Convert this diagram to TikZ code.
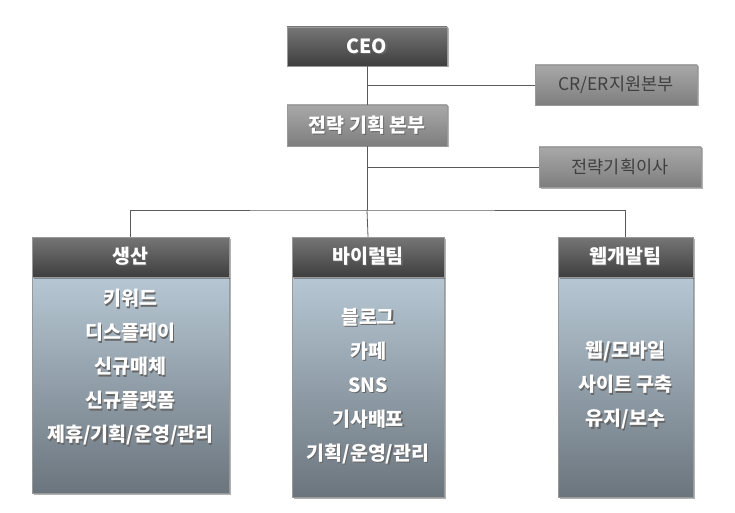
\documentclass[tikz,border=0pt]{standalone}
\usepackage{fontspec}
\usepackage{xcolor}
\usepackage{tikz}
\usetikzlibrary{positioning, shadows}
\newfontfamily\kr{Noto Sans CJK KR}
\definecolor{linegray}{HTML}{5A5A5A}
\definecolor{darktop}{HTML}{767676}
\definecolor{darkbot}{HTML}{3E3E3E}
\definecolor{midtop}{HTML}{A8A8A8}
\definecolor{midbot}{HTML}{7E7E7E}
\definecolor{bodytop}{HTML}{B6C7D3}
\definecolor{bodybot}{HTML}{6B757E}
\newcommand\shd[1]{\rlap{\kern1.2pt\raisebox{-1.2pt}{\textcolor{black!60}{#1}}}#1}

\begin{document}
\begin{tikzpicture}[x=1pt, y=-1pt,
  box/.style={rectangle, inner sep=0pt, draw=black!40, line width=.4pt,
    drop shadow={shadow xshift=1.5pt, shadow yshift=-1.5pt, opacity=.3, fill=black}},
  darkbox/.style={box, top color=darktop, bottom color=darkbot, text=white,
    font=\kr\bfseries\fontsize{19.5}{22}\selectfont},
  graybox/.style={box, top color=midtop, bottom color=midbot, text=white,
    font=\kr\bfseries\fontsize{19.5}{22}\selectfont},
  sidebox/.style={box, top color=midtop, bottom color=midbot, text=black!75,
    minimum width=162pt, minimum height=40pt, font=\kr\fontsize{17.5}{20}\selectfont},
  teambox/.style={box, top color=bodytop, bottom color=bodybot, minimum height=220pt},
  teamtext/.style={text=white, align=center, font=\kr\bfseries\fontsize{19.5}{34}\selectfont},
  link/.style={draw=linegray, line width=.8pt}]
  \useasboundingbox (0,0) rectangle (735,513);

  % top of the chart
  \node (ceo) [darkbox, minimum width=160pt, minimum height=39pt] at (367,46.5) {\shd{CEO}};
  \node (plan) [graybox, minimum width=160pt, minimum height=41pt] at (367,125.5) {\shd{전략 기획 본부}};
  \node (crer) [sidebox] at (616,85) {CR/ER지원본부};
  \node (dir) [sidebox] at (620,167) {전략기획이사};

  % teams
  \node (prodb) [teambox, minimum width=197pt, minimum height=216pt] at (130.5,385) {};
  \node (prodh) [darkbox, minimum width=197pt, minimum height=40pt] at (130.5,257) {\shd{생산}};
  \node (prodt) [teamtext] at (130.5,368) {\shd{키워드}\\\shd{디스플레이}\\\shd{신규매체}\\\shd{신규플랫폼}\\\shd{제휴/기획/운영/관리}};

  \node (viralb) [teambox, minimum width=152pt] at (368,387) {};
  \node (viralh) [darkbox, minimum width=152pt, minimum height=40pt] at (368,257) {\shd{바이럴팀}};
  \node (viralt) [teamtext] at (368,387) {\shd{블로그}\\\shd{카페}\\\shd{SNS}\\\shd{기사배포}\\\shd{기획/운영/관리}};

  \node (webb) [teambox, minimum width=135pt] at (625.5,387) {};
  \node (webh) [darkbox, minimum width=135pt, minimum height=40pt] at (625.5,257) {\shd{웹개발팀}};
  \node (webt) [teamtext] at (625.5,386) {\shd{웹/모바일}\\\shd{사이트 구축}\\\shd{유지/보수}};

  % connectors
  \coordinate (bar) at (367,210);
  \path[link] (ceo) -- (plan);
  \path[link] (crer.west -| ceo.south) -- (crer.west);
  \path[link] (plan.south) -- (bar);
  \path[link] (dir.west -| plan.south) -- (dir.west);
  \path[link] (prodh.north) |- (bar) -| (webh.north);
  \path[link] (bar) -- (viralh.north);
\end{tikzpicture}
\end{document}
